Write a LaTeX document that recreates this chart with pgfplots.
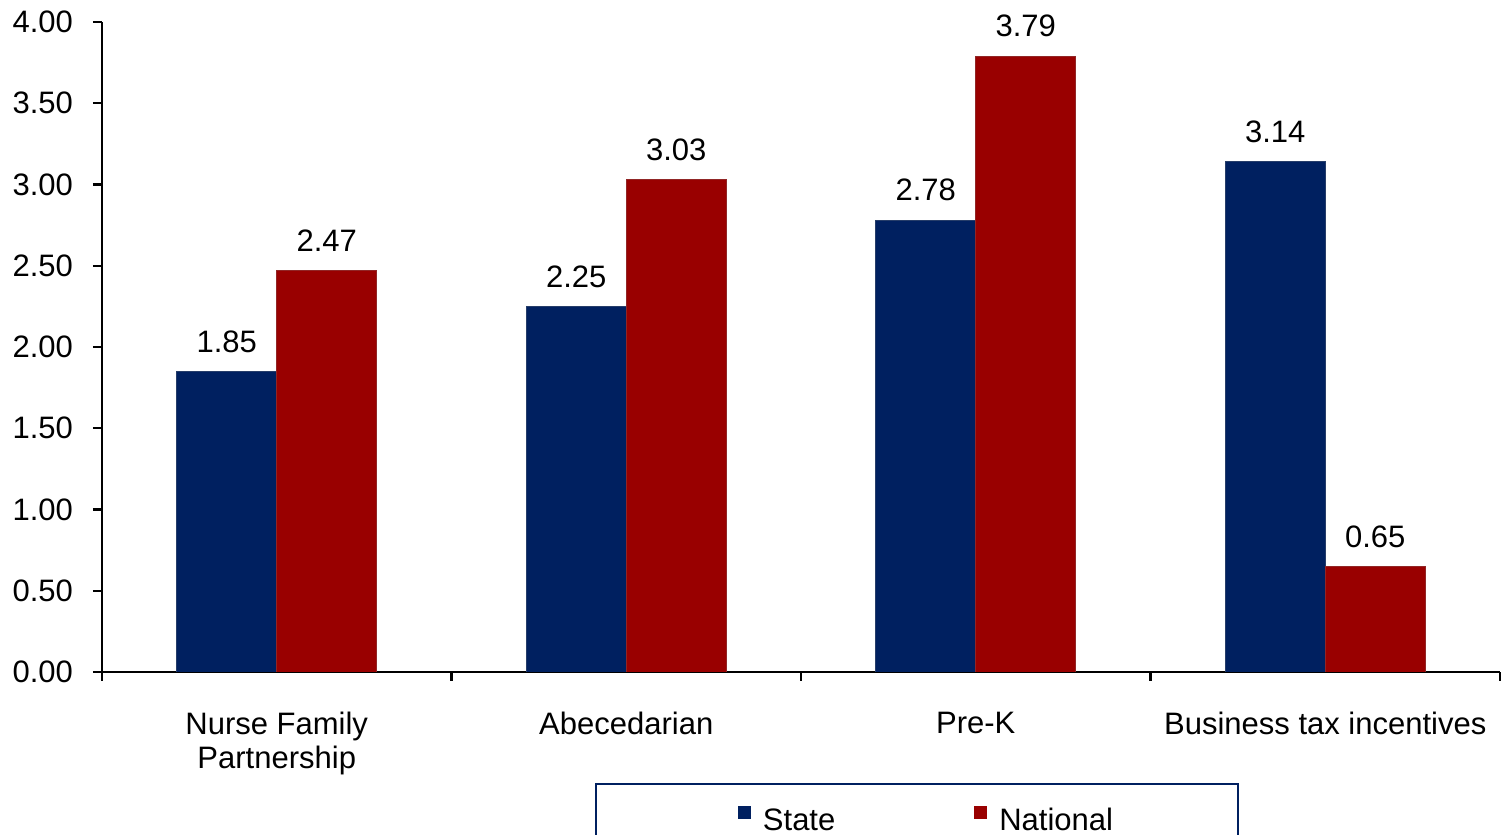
\documentclass[border=0pt]{standalone}
\usepackage{pgfplots}
\pgfplotsset{compat=1.18}
\usepackage{fontspec}
\setmainfont{Liberation Sans}
\definecolor{navy}{RGB}{0,32,96}
\definecolor{dred}{RGB}{153,0,0}
\begin{document}
\begin{tikzpicture}
\begin{axis}[name=ax,
  scale only axis, width=699pt, height=325pt,
  ybar=0pt, bar width=50pt,
  xmin=0.5, xmax=4.5, ymin=0, ymax=4,
  axis x line*=bottom, axis y line*=left,
  axis line style={line width=1.1pt, -},
  every tick/.style={line width=1.1pt, black},
  tick align=outside, major tick length=4.5pt,
  xtick={0.5,1.5,2.5,3.5,4.5},
  x tick label as interval,
  xticklabels={{Nurse Family\\Partnership},{Abecedarian},{Pre-K},{Business tax incentives}},
  xticklabel style={align=center, font=\fontsize{15.5}{17}\selectfont, yshift=-12pt},
  ytick={0,0.5,...,4},
  yticklabel style={font=\fontsize{15.5}{17}\selectfont, xshift=-6.5pt},
  /pgf/number format/assume math mode=true,
  yticklabel={\pgfmathprintnumber[fixed,fixed zerofill,precision=2]{\tick}},
  nodes near coords,
  every node near coord/.append style={font=\fontsize{15.5}{17}\selectfont, black, yshift=6pt,
     /pgf/number format/fixed, /pgf/number format/fixed zerofill, /pgf/number format/precision=2},
  legend columns=2,
  legend style={at={(0.583,-0.1708)}, anchor=north, draw=navy, line width=1pt,
     inner xsep=60.25pt, inner ysep=10pt, font=\fontsize{15.5}{17}\selectfont,
     /tikz/every odd column/.append style={column sep=4pt},
     /tikz/every even column/.append style={column sep=57pt}},
  legend image code/.code={\path[draw=none,fill=none] (0pt,1pt) rectangle (17pt,7.5pt); \fill[#1,draw=none] (10.5pt,1pt) rectangle (17pt,7.5pt);},
]
\addplot[fill=navy, draw=navy!70!gray, line width=0.3pt] coordinates {(1,1.85) (2,2.25) (3,2.78) (4,3.14)};
\addplot[fill=dred, draw=dred!70!gray, line width=0.3pt] coordinates {(1,2.47) (2,3.03) (3,3.79) (4,0.65)};
\legend{State, National}
\end{axis}
\pgfresetboundingbox
\useasboundingbox ([shift={(-51pt,-81.5pt)}]ax.south west) rectangle ([shift={(699.5pt,336pt)}]ax.south west);
\end{tikzpicture}
\end{document}
